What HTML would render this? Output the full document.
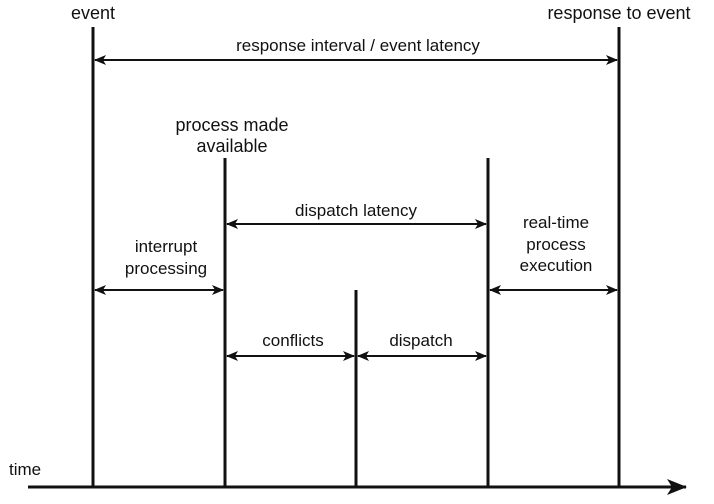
<!DOCTYPE html>
<html><head><style>body{margin:0;background:#fff}svg text{font-family:"Liberation Sans",sans-serif;fill:#111}</style></head>
<body>
<svg width="714" height="499" viewBox="0 0 714 499" xmlns="http://www.w3.org/2000/svg">
<defs>
<marker id="a" viewBox="0 0 12 10" refX="11" refY="5" markerWidth="12" markerHeight="10" markerUnits="userSpaceOnUse" orient="auto-start-reverse"><path d="M0,0 L12,5 L0,10 L3,5 Z" fill="#111"/></marker>
<marker id="b" viewBox="0 0 20 16" refX="19" refY="8" markerWidth="20" markerHeight="16" markerUnits="userSpaceOnUse" orient="auto"><path d="M0,0 L20,8 L0,16 L5,8 Z" fill="#111"/></marker>
</defs>
<g stroke="#111" stroke-width="3">
<line x1="93" y1="27" x2="93" y2="487"/>
<line x1="225" y1="158" x2="225" y2="487"/>
<line x1="356" y1="290" x2="356" y2="487"/>
<line x1="488" y1="158" x2="488" y2="487"/>
<line x1="619" y1="27" x2="619" y2="487"/>
</g>
<line x1="28" y1="487" x2="686" y2="487" stroke="#111" stroke-width="3" marker-end="url(#b)"/>
<g stroke="#111" stroke-width="2" marker-start="url(#a)" marker-end="url(#a)">
<line x1="95" y1="60" x2="617" y2="60"/>
<line x1="227" y1="224" x2="486" y2="224"/>
<line x1="95" y1="290" x2="223" y2="290"/>
<line x1="490" y1="290" x2="617" y2="290"/>
<line x1="227" y1="356" x2="354" y2="356"/>
<line x1="358" y1="356" x2="486" y2="356"/>
</g>
<g font-size="18" text-anchor="middle">
<text x="93" y="19">event</text>
<text x="619" y="19">response to event</text>
<text x="232" y="131">process made</text>
<text x="232" y="152">available</text>
</g>
<g font-size="17" text-anchor="middle">
<text x="358" y="51">response interval / event latency</text>
<text x="356" y="216">dispatch latency</text>
<text x="166" y="252">interrupt</text>
<text x="166" y="274">processing</text>
<text x="556" y="228">real-time</text>
<text x="556" y="250">process</text>
<text x="556" y="271">execution</text>
<text x="293" y="346">conflicts</text>
<text x="421" y="346">dispatch</text>
<text x="9" y="475" text-anchor="start">time</text>
</g>
</svg>
</body></html>
